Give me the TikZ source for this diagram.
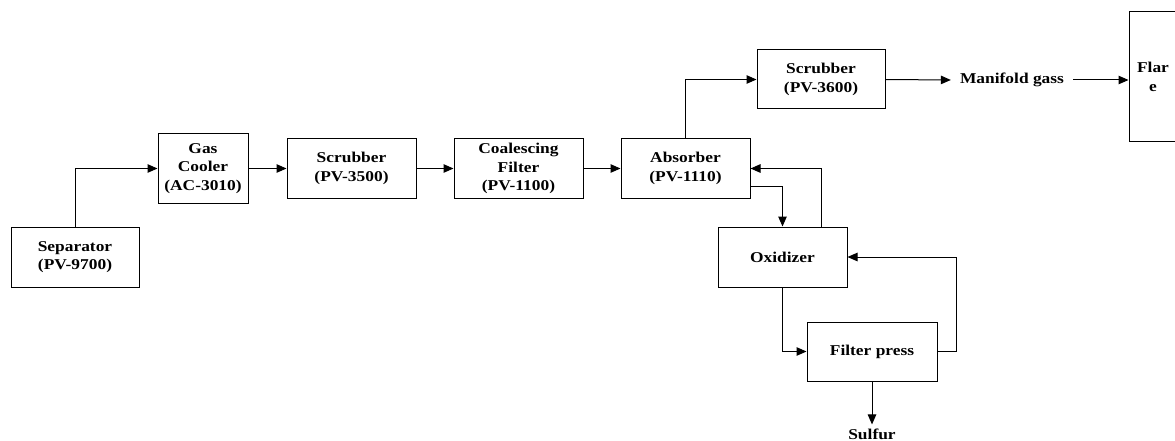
\documentclass[tikz,border=0pt]{standalone}
\usepackage{fontspec}
\setmainfont{Liberation Serif}[FakeStretch=1.16]
\usetikzlibrary{arrows.meta}
\begin{document}
\begin{tikzpicture}[x=1pt,y=-1pt,
  blk/.style={draw,line width=1pt,align=center,inner sep=0pt,font=\fontsize{15}{18.5}\selectfont\bfseries},
  lbl/.style={align=center,inner sep=0pt,font=\fontsize{15}{18.5}\selectfont\bfseries},
  flow/.style={line width=1pt,-{Triangle[length=10pt,width=8.5pt]}},
  line/.style={line width=1pt}]
\useasboundingbox (0,0) rectangle (1175,441);
\clip (0,0) rectangle (1175,441);
\node[blk,minimum width=128pt,minimum height=60pt] (sep) at (75,257) {Separator\\(PV-9700)};
\node[blk,minimum width=90pt,minimum height=69pt] (gc) at (203,168.5) {Gas\\Cooler\\(AC-3010)};
\node[blk,minimum width=129pt,minimum height=59pt] (s35) at (351.5,168.5) {Scrubber\\(PV-3500)};
\node[blk,minimum width=129pt,minimum height=59pt] (cf) at (518.5,168.5) {Coalescing\\Filter\\(PV-1100)};
\node[blk,minimum width=129pt,minimum height=59pt] (abs) at (685.5,168.5) {Absorber\\(PV-1110)};
\node[blk,minimum width=128pt,minimum height=59pt] (s36) at (821,79.5) {Scrubber\\(PV-3600)};
\node[lbl,inner xsep=9pt] (man) at (1012,80) {Manifold gass};
\node[blk,minimum width=48pt,minimum height=130pt] (flare) at (1153,77) {Flar\\e};
\node[blk,minimum width=129pt,minimum height=60pt] (ox) at (782.5,257) {Oxidizer};
\node[blk,minimum width=130pt,minimum height=59pt] (fp) at (872,351.5) {Filter press};
\node[lbl,inner ysep=4pt] (sul) at (872,434) {Sulfur};
\draw[flow] (sep.north) |- (gc.west);
\draw[flow] (gc.east) -- (s35.west);
\draw[flow] (s35.east) -- (cf.west);
\draw[flow] (cf.east) -- (abs.west);
\draw[flow] (abs.north) |- (s36.west);
\draw[flow] (s36.east) -- (man.west);
\draw[flow] (man.east) -- (man.east -| flare.west);
\draw[flow] ([yshift=-17.5pt]abs.east) -| (ox.north);
\draw[flow] ([xshift=38.5pt]ox.north) |- (abs.east);
\draw[flow] (ox.south) |- (fp.west);
\draw[flow] (fp.east) -- ++(19,0) |- (ox.east);
\draw[flow] (fp.south) -- (sul.north);
\end{tikzpicture}
\end{document}
